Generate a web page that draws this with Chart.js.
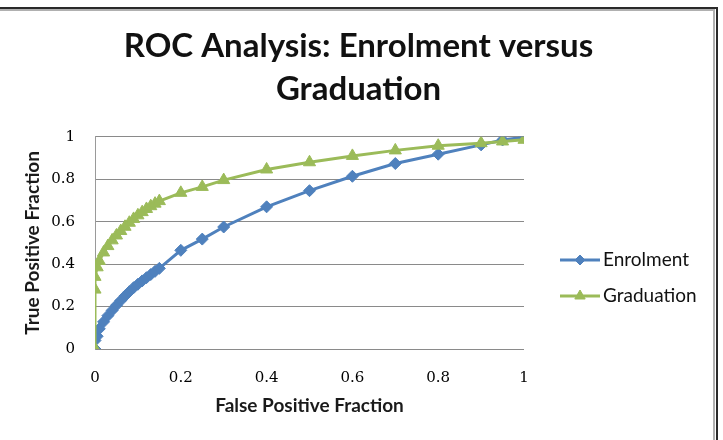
<!DOCTYPE html>
<html>
<head>
<meta charset="utf-8">
<script src="https://cdn.jsdelivr.net/npm/chart.js@4"></script>
<style>
html,body{margin:0;padding:0;background:#fff;}
#wrap{width:723px;height:440px;position:relative;}
</style>
</head>
<body>
<div id="wrap"><canvas id="c" width="723" height="440"></canvas></div>
<script>
const titleLines = ["ROC Analysis: Enrolment versus", "Graduation"];
const xAxisTitle = "False Positive Fraction";
const yAxisTitle = "True Positive Fraction";
const tickValues = [0, 0.2, 0.4, 0.6, 0.8, 1];
const seriesNames = ["Enrolment", "Graduation"];

const fprEnrol = [0, 0, 0.005, 0.01, 0.02, 0.03, 0.04, 0.05, 0.06, 0.07, 0.08, 0.09, 0.10, 0.11, 0.12, 0.13, 0.14, 0.15, 0.2, 0.25, 0.3, 0.4, 0.5, 0.6, 0.7, 0.8, 0.9, 0.95, 1];
const tprEnrol = [0, 0.04, 0.06, 0.095, 0.128, 0.157, 0.182, 0.206, 0.228, 0.25, 0.27, 0.289, 0.305, 0.321, 0.336, 0.351, 0.366, 0.38, 0.465, 0.518, 0.575, 0.67, 0.746, 0.814, 0.874, 0.918, 0.962, 0.985, 0.998];

const fprGrad = [0, 0, 0, 0.005, 0.01, 0.02, 0.03, 0.04, 0.05, 0.06, 0.07, 0.08, 0.09, 0.10, 0.11, 0.12, 0.13, 0.14, 0.15, 0.2, 0.25, 0.3, 0.4, 0.5, 0.6, 0.7, 0.8, 0.9, 0.95, 1];
const tprGrad = [0, 0.28, 0.34, 0.385, 0.415, 0.455, 0.485, 0.512, 0.535, 0.556, 0.576, 0.595, 0.613, 0.63, 0.645, 0.66, 0.673, 0.685, 0.697, 0.736, 0.764, 0.796, 0.846, 0.88, 0.91, 0.936, 0.958, 0.97, 0.978, 0.986];

const blue = "#4F81BD";
const green = "#9BBB59";

function pts(xs, ys){ return xs.map((x,i)=>({x:x, y:ys[i]})); }

const frame = {
  id: 'frame',
  afterDraw(chart){
    const ctx = chart.ctx;
    ctx.save();
    ctx.strokeStyle = '#b0b0b0';
    ctx.lineWidth = 2;
    ctx.beginPath();
    ctx.moveTo(0, 10); ctx.lineTo(714, 10); ctx.lineTo(714, 440);
    ctx.stroke();
    ctx.strokeStyle = '#2a2a2a';
    ctx.lineWidth = 2;
    ctx.beginPath();
    ctx.moveTo(0, 8); ctx.lineTo(717, 8); ctx.lineTo(717, 440);
    ctx.stroke();
    ctx.restore();
  }
};

const customLegend = {
  id: 'customLegend',
  afterDraw(chart){
    const ctx = chart.ctx;
    ctx.save();
    chart.data.datasets.slice().sort((a,b)=>a.legendIndex-b.legendIndex).forEach((ds, i) => {
      const y = 260 + i * 36;
      ctx.strokeStyle = ds.borderColor;
      ctx.lineWidth = 3;
      ctx.beginPath();
      ctx.moveTo(560, y); ctx.lineTo(600, y);
      ctx.stroke();
      ctx.fillStyle = ds.backgroundColor;
      ctx.strokeStyle = ds.borderColor;
      ctx.lineWidth = 1;
      Chart.helpers.drawPoint(ctx, {pointStyle: ds.pointStyle, radius: ds.pointRadius - 1, rotation: 0, borderWidth: 1}, 580, y);
      ctx.fillStyle = '#111';
      ctx.font = '19px Lato';
      ctx.textBaseline = 'middle';
      ctx.textAlign = 'left';
      ctx.fillText(ds.label, 603, y);
    });
    ctx.restore();
  }
};

new Chart(document.getElementById('c'), {
  type: 'scatter',
  data: {
    datasets: [
      {
        label: seriesNames[1], legendIndex: 1, order: 1,
        data: pts(fprGrad, tprGrad),
        showLine: true, borderColor: green, backgroundColor: green,
        borderWidth: 3, tension: 0,
        pointStyle: 'triangle', pointRadius: 7, pointHoverRadius: 7, pointBorderWidth: 1
      },
      {
        label: seriesNames[0], legendIndex: 0, order: 2,
        data: pts(fprEnrol, tprEnrol),
        showLine: true, borderColor: blue, backgroundColor: blue,
        borderWidth: 3, tension: 0,
        pointStyle: 'rectRot', pointRadius: 6, pointHoverRadius: 6, pointBorderWidth: 1
      }
    ]
  },
  options: {
    responsive: false,
    animation: false,
    devicePixelRatio: 1,
    layout: { padding: { left: 0, right: 6, top: 0, bottom: 0 } },
    plugins: {
      legend: { display: false },
      tooltip: { enabled: false },
      title: {
        display: true,
        text: titleLines,
        color: '#111',
        font: { family: 'Lato', size: 33, weight: 'bold', lineHeight: 1.3 },
        padding: { top: 25, bottom: 26 }
      }
    },
    scales: {
      x: {
        type: 'linear', min: 0, max: 1,
        afterBuildTicks(scale){ scale.ticks = tickValues.map(v=>({value:v})); },
        afterFit(scale){ scale.height = 91; },
        grid: { display: false, drawTicks: false },
        border: { display: false },
        ticks: { padding: 20, color: '#000', font: { family: 'DejaVu Serif', size: 15 }, maxRotation: 0,
                 callback: v => String(v) },
        title: { display: true, text: xAxisTitle, color: '#1a1a1a',
                 font: { family: 'Lato', size: 19, weight: 'bold', lineHeight: 1.2 },
                 padding: { top: 0, bottom: 23 } }
      },
      y: {
        type: 'linear', min: 0, max: 1,
        afterBuildTicks(scale){ scale.ticks = tickValues.map(v=>({value:v})); },
        afterFit(scale){ scale.width = 95; },
        grid: { color: '#8a8a8a', lineWidth: 1, drawTicks: false },
        border: { display: true, color: '#9a9a9a', width: 1 },
        ticks: { padding: 20, color: '#000', font: { family: 'DejaVu Serif', size: 15 },
                 callback: v => String(v) },
        title: { display: true, text: yAxisTitle, color: '#1a1a1a',
                 font: { family: 'Lato', size: 19, weight: 'bold', lineHeight: 1.2 },
                 padding: { top: 21, bottom: 0 } }
      },
      legendSpace: {
        type: 'linear', position: 'right', min: 0, max: 1,
        afterFit(scale){ scale.width = 193; },
        grid: { display: false, drawTicks: false },
        border: { display: false },
        ticks: { display: false }
      }
    }
  },
  plugins: [frame, customLegend]
});
</script>
</body>
</html>
